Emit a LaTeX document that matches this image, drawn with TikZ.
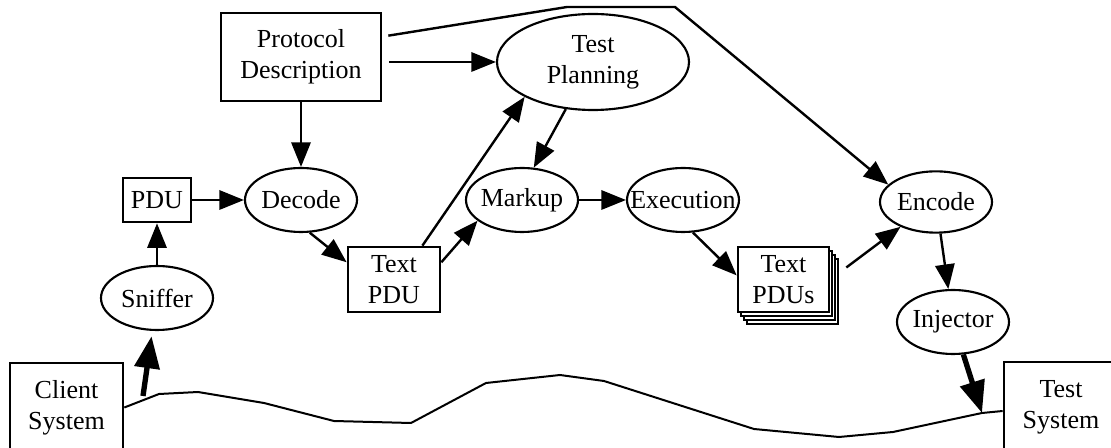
\documentclass[tikz,border=0pt]{standalone}
\usepackage{fontspec}
\setmainfont{Liberation Serif}
\usetikzlibrary{arrows.meta,positioning,shapes.geometric}

\begin{document}
\begin{tikzpicture}[
  x=0.75pt, y=-0.75pt,
  every node/.style={font=\fontsize{19.5}{23.5}\selectfont, align=center},
  box/.style={rectangle,draw,line width=2pt,fill=white,inner sep=0pt},
  proc/.style={ellipse,draw,line width=1.6pt,inner sep=-20pt,
               minimum width=84pt,minimum height=48pt},
  link/.style={line width=1.8pt,-{Triangle[length=18.5pt,width=14.5pt]}},
  bigarrow/.style={line width=4pt,-{Triangle[length=24pt,width=18.5pt]}},
]
  \useasboundingbox (0,0) rectangle (1111,448);

  % boxes
  \node[box,minimum width=120pt,minimum height=66pt] (proto) at (301,57) {Protocol\\Description};
  \node[box,minimum width=51pt,minimum height=33pt] (pdu) at (157,200) {PDU};
  \node[box,minimum width=69pt,minimum height=48.75pt] (tpdu) at (394,279.5) {Text\\PDU};
  \foreach \k in {3,2,1}
    \node[box,line width=1.3pt,minimum width=68.25pt,minimum height=48.75pt]
      at ({783.5+3*\k},{279.5+4*\k}) {};
  \node[box,minimum width=68.25pt,minimum height=48.75pt] (tpdus) at (783.5,279.5) {Text\\PDUs};
  \node[box,minimum width=84.75pt,minimum height=66.75pt] (client) at (66.5,407.5) {Client\\System};
  \node[box,minimum width=85.5pt,minimum height=67.5pt] (testsys) at (1061,407) {Test\\System};

  % processes
  \node[proc,minimum width=144pt,minimum height=72pt] (plan) at (593,62) {Test\\Planning};
  \node[proc] (decode) at (301,200) {Decode};
  \node[proc] (sniff) at (157,298) {Sniffer};
  \node[proc] (markup) at (522,200) {Markup};
  \node[proc] (exec) at (683,200) {Execution};
  \node[proc,minimum height=46pt] (encode) at (936,202) {Encode};
  \node[proc] (inject) at (953,322) {Injector};

  \coordinate (b1) at (567,7);
  \coordinate (b2) at (675,7);
  \coordinate (tapc) at (143,396);
  \coordinate (tapt) at (982,413);

  % network
  \draw[line width=1.5pt] (client.east) -- (159,394) -- (198,392) -- (264,403)
    -- (334,421) -- (411,423) -- (486,383) -- (560,375) -- (604,381) -- (754,429)
    -- (839,437) -- (893,432) -- (tapt) -- ([shift={(0,4)}]testsys.west);

  \draw[link] ([shift={(6,24)}]proto.north east) -- (b1) -- (b2) -- (encode.160);
  \draw[link,shorten <=5pt] (proto.east |- plan) -- (plan);
  \draw[link] (proto) -- (decode);
  \draw[link] (pdu) -- (decode);
  \draw[link] (sniff) -- (pdu);
  \draw[bigarrow,shorten >=4pt] (tapc) -- (sniff);
  \draw[link] (decode.285) -- (tpdu.160);
  \draw[link] (tpdu.50) -- (plan.207);
  \draw[link] (tpdu.20) -- (markup.205);
  \draw[link] (plan.240) -- (markup.70);
  \draw[link] (markup) -- (exec);
  \draw[link] (exec.287) -- (tpdus.175);
  \draw[link,shorten <=15pt] (tpdus.east) -- (encode.215);
  \draw[link] (encode) -- (inject);
  \draw[bigarrow] (inject) -- (tapt);
\end{tikzpicture}
\end{document}
